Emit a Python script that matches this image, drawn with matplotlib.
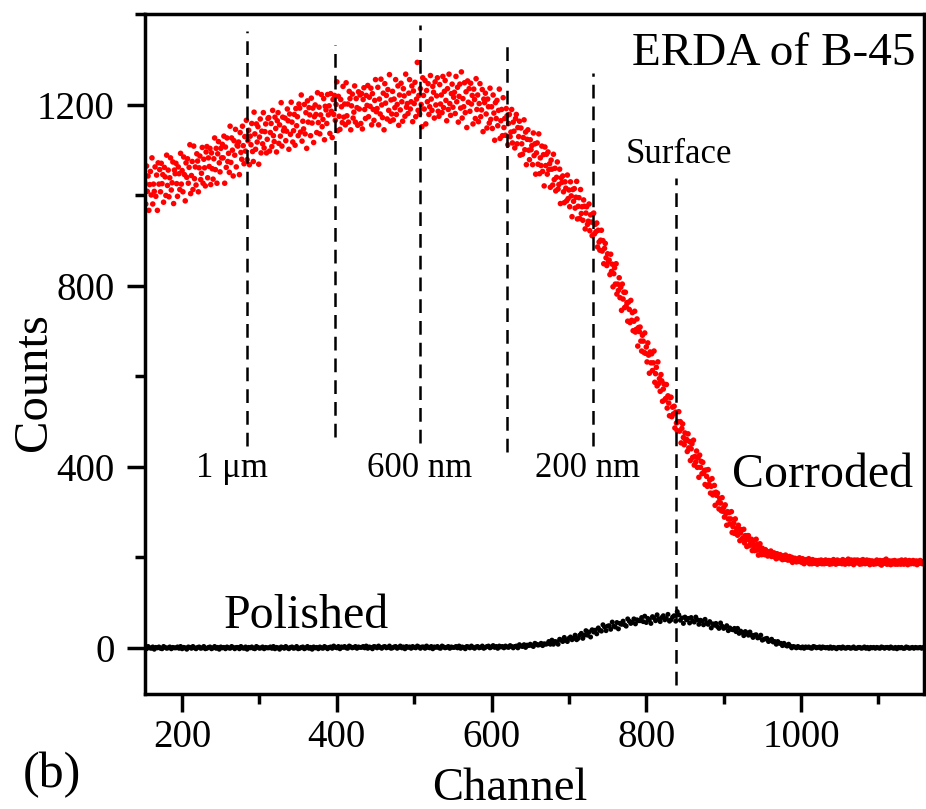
import numpy as np
import matplotlib
matplotlib.use("Agg")
import matplotlib.pyplot as plt
from matplotlib.ticker import MultipleLocator

# ---------------- data ----------------
corroded_start = 152  # first channel, one value per channel
corroded_counts = [
    1027, 981, 1065, 1009, 1043, 967, 1024, 1053, 1001, 1083, 981, 1025, 1009, 1063, 998, 1045, 967, 1072, 1025, 1057,
    1008, 1071, 1026, 1046, 985, 1062, 1041, 1000, 1089, 1022, 1056, 997, 1039, 1083, 1012, 1028, 1074, 982, 1056, 1048,
    1071, 1026, 998, 1063, 1048, 1013, 1093, 1025, 1055, 1008, 1085, 1046, 988, 1072, 1040, 1081, 1027, 1062, 1112, 1004,
    1044, 1075, 1013, 1109, 1037, 1063, 1023, 1092, 1076, 1008, 1061, 1087, 1035, 1049, 1106, 1027, 1080, 1061, 1021, 1096,
    1108, 1039, 1083, 1064, 1104, 1024, 1094, 1059, 1036, 1081, 1127, 1057, 1104, 1027, 1092, 1119, 1072, 1052, 1104, 1083,
    1113, 1083, 1131, 1027, 1107, 1062, 1127, 1075, 1093, 1051, 1153, 1073, 1127, 1100, 1043, 1121, 1089, 1146, 1063, 1111,
    1109, 1118, 1046, 1139, 1095, 1080, 1153, 1110, 1070, 1130, 1098, 1166, 1079, 1121, 1144, 1068, 1131, 1112, 1159, 1097,
    1075, 1184, 1136, 1102, 1158, 1118, 1152, 1069, 1129, 1169, 1094, 1142, 1114, 1183, 1105, 1141, 1158, 1094, 1124, 1170,
    1172, 1098, 1139, 1159, 1108, 1188, 1132, 1119, 1173, 1148, 1096, 1165, 1183, 1115, 1156, 1131, 1205, 1109, 1173, 1143,
    1149, 1171, 1121, 1142, 1191, 1165, 1102, 1180, 1135, 1206, 1162, 1118, 1143, 1179, 1111, 1192, 1154, 1174, 1132, 1202,
    1193, 1140, 1222, 1120, 1164, 1147, 1201, 1136, 1183, 1104, 1209, 1162, 1194, 1178, 1132, 1215, 1160, 1193, 1117, 1174,
    1200, 1179, 1139, 1227, 1161, 1195, 1136, 1178, 1223, 1152, 1168, 1214, 1123, 1197, 1189, 1159, 1223, 1178, 1198, 1137,
    1225, 1186, 1128, 1212, 1179, 1221, 1166, 1201, 1251, 1143, 1219, 1175, 1146, 1212, 1196, 1161, 1241, 1173, 1202, 1156,
    1249, 1176, 1202, 1162, 1230, 1214, 1145, 1198, 1224, 1171, 1184, 1242, 1162, 1214, 1194, 1155, 1229, 1191, 1222, 1159,
    1225, 1147, 1212, 1238, 1190, 1170, 1221, 1199, 1243, 1174, 1217, 1197, 1237, 1156, 1225, 1190, 1166, 1210, 1256, 1185,
    1192, 1239, 1156, 1213, 1180, 1257, 1200, 1172, 1226, 1145, 1247, 1204, 1221, 1169, 1234, 1188, 1267, 1164, 1211, 1180,
    1230, 1167, 1213, 1194, 1256, 1179, 1201, 1242, 1155, 1222, 1189, 1248, 1207, 1164, 1236, 1220, 1175, 1268, 1195, 1203,
    1181, 1226, 1256, 1191, 1207, 1242, 1163, 1231, 1203, 1250, 1174, 1213, 1294, 1188, 1221, 1180, 1236, 1201, 1152, 1260,
    1221, 1191, 1254, 1158, 1232, 1207, 1247, 1179, 1196, 1265, 1213, 1188, 1241, 1228, 1171, 1251, 1200, 1220, 1260, 1186,
    1175, 1245, 1202, 1222, 1183, 1263, 1194, 1230, 1254, 1210, 1165, 1236, 1190, 1268, 1203, 1177, 1225, 1246, 1195, 1217,
    1228, 1181, 1263, 1207, 1239, 1162, 1219, 1246, 1193, 1273, 1171, 1214, 1196, 1249, 1183, 1229, 1150, 1253, 1206, 1236,
    1186, 1248, 1202, 1221, 1158, 1235, 1212, 1170, 1258, 1190, 1222, 1163, 1203, 1247, 1174, 1189, 1234, 1141, 1213, 1205,
    1226, 1180, 1149, 1213, 1196, 1160, 1237, 1168, 1196, 1148, 1222, 1182, 1122, 1205, 1170, 1210, 1154, 1188, 1235, 1126,
    1165, 1190, 1132, 1216, 1150, 1170, 1133, 1192, 1176, 1112, 1159, 1179, 1130, 1140, 1190, 1116, 1162, 1142, 1105, 1170,
    1179, 1114, 1150, 1130, 1164, 1089, 1149, 1114, 1091, 1128, 1167, 1101, 1140, 1068, 1124, 1145, 1100, 1079, 1123, 1101,
    1110, 1068, 1138, 1088, 1114, 1047, 1094, 1116, 1069, 1136, 1048, 1083, 1066, 1109, 1053, 1090, 1021, 1107, 1066, 1091,
    1047, 1096, 1057, 1070, 1018, 1078, 1058, 1023, 1091, 1035, 1060, 1010, 1040, 1074, 1014, 1024, 1058, 982, 1039, 1029,
    1043, 1008, 984, 1030, 1016, 988, 1045, 993, 1012, 975, 1030, 999, 953, 1013, 987, 1015, 972, 996, 1031, 948,
    976, 995, 949, 1013, 960, 975, 945, 990, 976, 926, 961, 975, 936, 943, 981, 922, 957, 941, 911, 959,
    961, 915, 936, 920, 939, 886, 923, 897, 879, 901, 923, 877, 900, 849, 883, 894, 862, 845, 871, 853,
    857, 825, 870, 832, 848, 798, 827, 840, 804, 849, 782, 804, 790, 818, 774, 797, 746, 804, 771, 786,
    752, 786, 755, 763, 722, 764, 748, 719, 768, 724, 741, 701, 722, 744, 698, 704, 727, 667, 708, 699,
    709, 678, 656, 691, 678, 653, 696, 651, 665, 632, 674, 647, 607, 654, 630, 650, 613, 630, 656, 587,
    606, 620, 579, 632, 584, 595, 567, 604, 590, 545, 572, 583, 548, 551, 582, 530, 557, 541, 513, 553,
    554, 511, 532, 517, 534, 486, 521, 497, 480, 500, 522, 479, 500, 453, 485, 495, 465, 449, 475, 458,
    461, 434, 473, 442, 456, 414, 440, 451, 421, 459, 404, 423, 411, 435, 399, 420, 377, 426, 399, 412,
    385, 410, 386, 392, 361, 393, 379, 357, 394, 361, 371, 342, 357, 374, 338, 342, 359, 315, 344, 337,
    342, 321, 307, 330, 320, 303, 332, 302, 310, 289, 316, 297, 271, 301, 285, 299, 274, 285, 301, 255,
    268, 276, 253, 285, 257, 264, 249, 271, 263, 237, 254, 261, 241, 243, 262, 232, 248, 239, 224, 248,
    248, 226, 238, 231, 240, 215, 235, 223, 215, 227, 240, 216, 229, 205, 223, 230, 214, 206, 220, 213,
    213, 206, 217, 209, 213, 203, 210, 212, 205, 214, 202, 206, 204, 210, 201, 207, 197, 208, 202, 205,
    199, 206, 200, 203, 195, 203, 201, 196, 205, 196, 200, 194, 198, 202, 194, 195, 200, 189, 197, 196,
    198, 193, 190, 196, 194, 191, 199, 191, 194, 189, 197, 193, 186, 194, 191, 195, 190, 192, 197, 186,
    189, 192, 186, 195, 188, 191, 187, 193, 192, 185, 190, 193, 187, 189, 194, 186, 192, 190, 186, 193,
    194, 187, 191, 189, 193, 185, 192, 188, 186, 190, 195, 188, 192, 185, 191, 194, 189, 187, 192, 190,
    191, 186, 195, 189, 192, 185, 190, 193, 188, 196, 186, 190, 188, 194, 187, 192, 184, 194, 189, 193,
    188, 194, 189, 191, 185, 193, 191, 186, 195, 189, 192, 186, 190, 194, 187, 189, 193, 184, 191, 191,
    192, 188, 185, 191, 190, 186, 194, 187, 190, 186, 193, 189, 183, 192, 189, 193, 187, 191, 196, 185,
    190, 186, 192, 191, 184, 189, 192, 186, 188, 193, 185, 191, 189, 185, 192, 188, 191, 185, 194, 187,
    187, 185, 189, 194, 187, 191, 184, 190, 193, 188, 186, 191, 189, 193, 186, 190, 188, 192, 184, 191,
    190, 187, 193, 188, 191, 186, 189,
]

polished_start = 152  # first channel, one value every 2 channels
polished_step = 2
polished_counts = [
    1, -2, 3, 0, -1, 2, -3, 1, 0, 2, -1, -2, 3, 1, -1, 0, 2, -2, 1, 0,
    0, 2, -1, 3, -2, 1, 0, -3, 2, 1, -1, 3, 0, -2, 1, 2, -1, 0, 3, -2,
    -1, 1, 2, -2, 0, 3, -1, 1, -3, 2, 0, 1, -2, 2, 0, -1, 3, 1, -2, 1,
    1, -2, 3, 0, -1, 2, -3, 1, 0, 2, -1, -2, 3, 1, -1, 0, 2, -2, 1, 0,
    0, 2, -1, 3, -2, 1, 0, -3, 2, 1, -1, 3, 0, -2, 1, 2, -1, 0, 3, -2,
    -1, 1, 2, -2, 0, 3, -1, 1, -3, 2, 0, 1, -2, 2, 0, -1, 3, 1, -2, 1,
    2, -1, 4, 1, 0, 3, -2, 2, 1, 3, 0, -1, 4, 2, 0, 1, 3, -1, 2, 1,
    1, 3, 0, 4, -1, 2, 1, -2, 3, 2, 0, 4, 1, -1, 2, 3, 0, 1, 4, -1,
    0, 2, 3, -1, 1, 4, 0, 2, -2, 3, 1, 2, -1, 3, 1, 0, 4, 2, -1, 2,
    2, -1, 4, 1, 0, 3, -2, 2, 1, 3, 0, -1, 4, 2, 0, 1, 3, -1, 2, 1,
    1, 3, 0, 4, -1, 2, 1, -2, 3, 2, 0, 4, 1, -1, 2, 3, 0, 1, 4, -1,
    1, 3, 4, 0, 2, 5, 1, 3, -1, 4, 2, 3, 0, 4, 2, 1, 5, 3, 0, 3,
    4, 0, 7, 4, 3, 7, 1, 6, 5, 8, 5, 3, 10, 8, 6, 7, 10, 5, 9, 8,
    9, 14, 8, 17, 8, 14, 13, 8, 19, 17, 14, 23, 17, 14, 21, 24, 18, 21, 28, 18,
    21, 28, 32, 21, 28, 38, 28, 35, 24, 40, 35, 39, 31, 44, 39, 37, 51, 46, 38, 48,
    49, 41, 57, 48, 46, 56, 42, 54, 52, 59, 51, 48, 64, 59, 54, 57, 64, 53, 62, 60,
    60, 67, 58, 70, 56, 65, 62, 54, 69, 66, 60, 73, 64, 58, 67, 71, 62, 65, 74, 59,
    62, 68, 71, 59, 80, 73, 61, 66, 54, 68, 62, 65, 55, 67, 60, 57, 68, 62, 52, 61,
    59, 51, 63, 55, 52, 58, 44, 53, 50, 54, 47, 43, 55, 48, 43, 45, 49, 38, 44, 41,
    40, 43, 36, 43, 32, 37, 34, 27, 36, 33, 28, 35, 28, 23, 28, 29, 22, 23, 28, 17,
    19, 20, 21, 14, 16, 19, 13, 14, 8, 14, 10, 10, 5, 10, 6, 4, 8, 4, 0, 3,
    2, 0, 3, 1, 0, 2, -1, 2, 1, 2, 0, -1, 3, 2, 0, 1, 2, -1, 2, 1,
    0, 1, -1, 2, -1, 1, 0, -2, 1, 1, -1, 2, 0, -1, 1, 1, -1, 0, 2, -1,
    -1, 1, 1, -1, 0, 2, -1, 1, -2, 1, 0, 1, -1, 1, 0, -1, 2, 1, -1, 1,
    1, -1, 2, 0, -1, 1, -2, 1, 0, 1, -1, -1, 2, 1, -1, 0, 1, -1, 1, 0,
    0, 1, -1, 1,
]

# depth marker lines (channel, top count, bottom count)
depth_channels = [284, 397, 507, 620, 731]
depth_tops = [1363, 1333, 1377, 1333, 1271]
depth_bottoms = [446, 466, 453, 433, 446]
depth_labels = ["1 μm", "600 nm", "200 nm"]
depth_label_channels = [264, 507, 724]
surface_channel = 838
surface_top = 1039
surface_bottom = -82

x_ticks = [200, 400, 600, 800, 1000]
y_ticks = [0, 400, 800, 1200]

# ---------------- plot ----------------
plt.rcParams['font.family'] = ['Liberation Serif', 'DejaVu Serif']

fig = plt.figure(figsize=(9.26, 8.09), dpi=100)
ax = fig.add_axes([145 / 926, 115 / 809, 779 / 926, 680 / 809])

ch_c = corroded_start + np.arange(len(corroded_counts))
ch_p = polished_start + polished_step * np.arange(len(polished_counts))

ax.scatter(ch_c, corroded_counts, s=16, color='#ff0000', edgecolors='none', zorder=2)
ax.scatter(ch_p, polished_counts, s=13, color='black', edgecolors='none', zorder=3)

dash = (0, (5.5, 3.2))
ax.vlines(depth_channels, depth_bottoms, depth_tops, colors='black',
          linestyles=[dash], linewidth=1.8, zorder=4)
ax.vlines([surface_channel], [surface_bottom], [surface_top], colors='black',
          linestyles=[dash], linewidth=1.8, zorder=4)

ax.set_xlim(152, 1159)
ax.set_ylim(-102, 1401)
ax.set_xticks(x_ticks)
ax.set_yticks(y_ticks)
ax.xaxis.set_minor_locator(MultipleLocator(100))
ax.yaxis.set_minor_locator(MultipleLocator(200))

for s in ax.spines.values():
    s.set_linewidth(2.5)
ax.tick_params(which='both', direction='out', top=False, right=False, width=2.5)
ax.tick_params(which='major', length=13, labelsize=28)
ax.tick_params(which='minor', length=7)
ax.tick_params(axis='x', which='major', pad=5)
ax.tick_params(axis='y', which='major', pad=9)

# texts
ax.text(1148, 1288, "ERDA of B-45", fontsize=34, ha='right', va='baseline')
ax.text(surface_channel + 4, 1072, "Surface", fontsize=25, ha='center', va='baseline')
for lab, c in zip(depth_labels, depth_label_channels):
    ax.text(c, 378, lab, fontsize=25, ha='center', va='baseline')
ax.text(1028, 356, "Corroded", fontsize=34.5, ha='center', va='baseline')
ax.text(360, 44, "Polished", fontsize=34.5, ha='center', va='baseline')

fig.text(34 / 926, 1 - 382 / 809, "Counts", fontsize=35, rotation=90, ha='center', va='center')
fig.text(510 / 926, 1 - 800 / 809, "Channel", fontsize=33.5, ha='center', va='baseline')
fig.text(52 / 926, 1 - 787 / 809, "(b)", fontsize=36, ha='center', va='baseline')

fig.savefig("out.png", dpi=100)
